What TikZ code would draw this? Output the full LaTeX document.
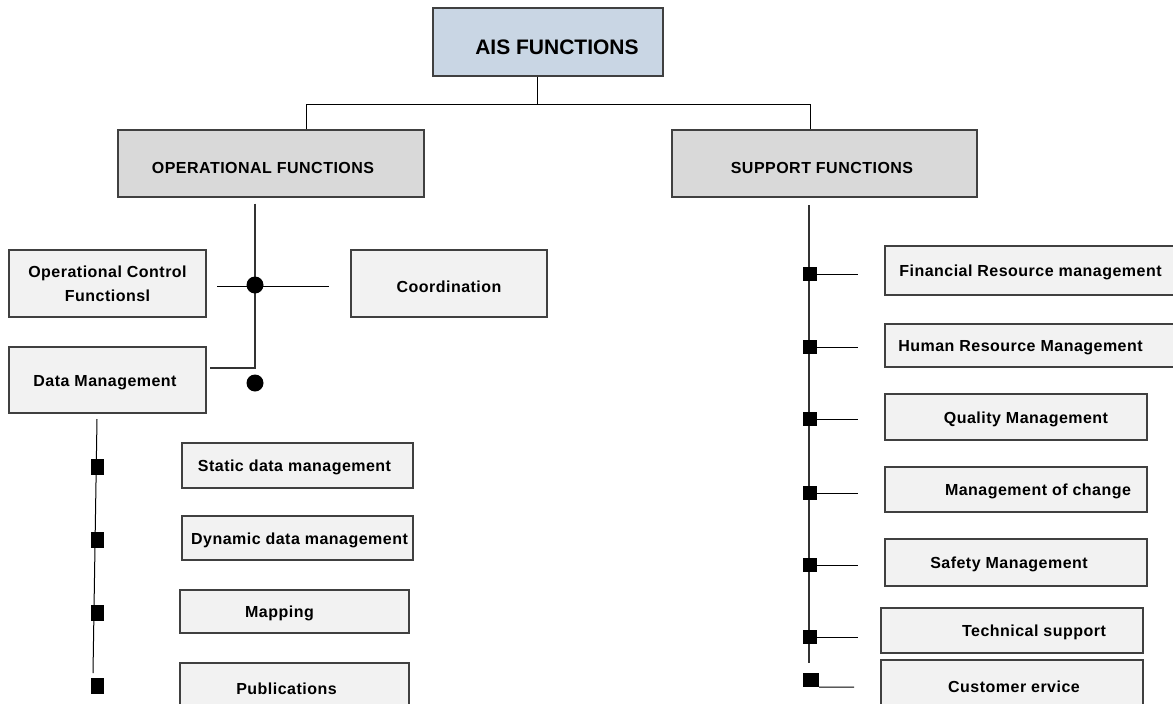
\documentclass[tikz,border=0pt]{standalone}
\usepackage{fontspec}
\setmainfont{Liberation Sans}
\newfontfamily\boxfont[LetterSpace=3]{Liberation Sans}
\definecolor{titleFill}{HTML}{C9D6E4}
\definecolor{headFill}{HTML}{D9D9D9}
\definecolor{boxFill}{HTML}{F2F2F2}
\definecolor{boxLine}{HTML}{404040}
\newcommand{\lowertext}[2]{\raisebox{-#1}[\height][\depth]{#2}}

\begin{document}
\begin{tikzpicture}
[x=1pt, y=-1pt,
  titleDecorate/.style={draw=boxLine, line width=1.2pt, fill=titleFill, inner sep=0pt,
    font=\bfseries\fontsize{21}{24}\selectfont},%
  headDecorate/.style={draw=boxLine, line width=1.2pt, fill=headFill, inner sep=0pt,
    font=\boxfont\bfseries\fontsize{16}{24}\selectfont},%
  boxDecorate/.style={headDecorate, fill=boxFill},%
  dotDecorate/.style={shape=circle, fill=black, inner sep=0pt, minimum size=17pt},%
  squareDecorate/.style={shape=rectangle, fill=black, inner sep=0pt},%
  lineDecorate/.style={-, line width=1pt},%
  stemDecorate/.style={-, line width=1.5pt, draw=black!80}]
\useasboundingbox (0,0) rectangle (1173,704);
%% top of the tree
\node (ais) at (548,42) [titleDecorate, minimum width=230pt, minimum height=68pt]
  {\hspace*{18pt}\lowertext{5pt}{AIS FUNCTIONS}};
\node (opf) at (271,163.5) [headDecorate, minimum width=306pt, minimum height=67pt]
  {\hspace*{-16pt}\lowertext{4pt}{OPERATIONAL FUNCTIONS}};
\node (supf) at (824.5,163.5) [headDecorate, minimum width=305pt, minimum height=67pt]
  {\hspace*{-5pt}\lowertext{4pt}{SUPPORT FUNCTIONS}};
\coordinate (jn) at (537,104);
\coordinate (jl) at (306,104);
\coordinate (jr) at (810,104);
\draw[lineDecorate] (jn |- ais.south) -- (jn);
\draw[lineDecorate] (jl |- opf.north) -- (jl) -- (jr) -- (jr |- supf.north);
%% operational functions
\node (occ) at (107.5,283.5) [boxDecorate, align=center, minimum width=197pt, minimum height=67pt]
  {Operational Control\\Functionsl};
\node (coord) at (449,283.5) [boxDecorate, minimum width=196pt, minimum height=67pt]
  {\lowertext{3pt}{Coordination}};
\node (datam) at (107.5,380) [boxDecorate, minimum width=197pt, minimum height=66pt]
  {\hspace*{-5pt}\lowertext{3pt}{Data Management}};
\coordinate (opj) at (255,368);
\coordinate (crossL) at (217,286);
\coordinate (crossR) at (329,286);
\draw[stemDecorate] ([yshift=-6pt]opj |- opf.south) -- (opj) -- ([xshift=3pt]opj -| datam.east);
\draw[lineDecorate] (crossL) -- (crossR);
\node (dotA) at (255,285) [dotDecorate] {};
\node (dotB) at (255,383) [dotDecorate] {};
%% data management
\foreach \nodename/\x/\y/\w/\h/\sh/\txt in {
  static/297.5/465.5/231/45/-6/Static data management,
  dynamic/297.5/538/231/44/4/Dynamic data management,
  mapping/294.5/611.5/229/43/-30/Mapping,
  publ/294.5/686.5/229/47/-16/Publications}
{
  \node (\nodename) at (\x,\y) [boxDecorate, minimum width=\w pt, minimum height=\h pt]
    {\hspace*{\sh pt}\lowertext{2pt}{\txt}};
}
\coordinate (dmTop) at (97,419);
\coordinate (dmBot) at (93,673);
\draw[lineDecorate] (dmTop) -- (dmBot);
\foreach \nodename/\y in {sqA/467, sqB/540, sqC/613, sqD/686}
{
  \node (\nodename) at (97.5,\y) [squareDecorate, minimum width=13pt, minimum height=16pt] {};
}
%% support functions
\foreach \nodename/\x/\y/\w/\h/\sh/\txt in {
  fin/1032.5/270.5/295/49/-4/Financial Resource management,
  hum/1032.5/345.5/295/43/-24/Human Resource Management,
  qual/1016/417/262/46/20/Quality Management,
  change/1016/489.5/262/45/44/Management of change,
  safety/1016/562.5/262/47/-14/Safety Management,
  tech/1012/630.5/262/45/44/Technical support,
  cust/1012/685/262/50/4/Customer ervice}
{
  \node (\nodename) at (\x,\y) [boxDecorate, minimum width=\w pt, minimum height=\h pt]
    {\hspace*{\sh pt}\lowertext{2pt}{\txt}};
}
\coordinate (spTop) at (809,205);
\coordinate (spBot) at (809,663);
\draw[stemDecorate] (spTop) -- (spBot);
\foreach \nodename/\y in {sqFin/274, sqHum/347, sqQual/419, sqChange/493, sqSafety/565, sqTech/637}
{
  \node (\nodename) at (810,\y) [squareDecorate, minimum size=14pt] {};
  \coordinate (\nodename-end) at (858,\y);
}
\node (sqCust) at (811,680) [squareDecorate, minimum width=16pt, minimum height=14pt] {};
\coordinate (sqCust-end) at (854,687);
\path
\foreach \startnode in {sqFin, sqHum, sqQual, sqChange, sqSafety, sqTech}
{
  (\startnode) edge[lineDecorate] (\startnode-end)
};
\draw[lineDecorate] (sqCust.south east) -- (sqCust-end);
\end{tikzpicture}
\end{document}
